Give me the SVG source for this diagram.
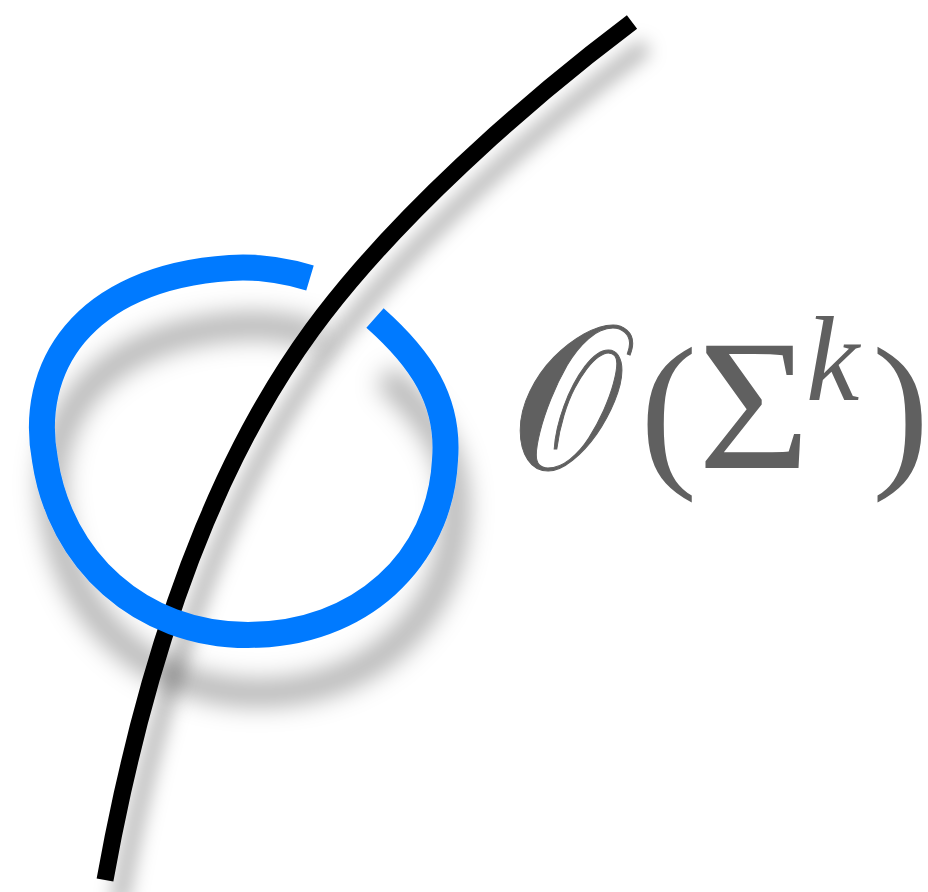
<svg xmlns="http://www.w3.org/2000/svg" width="928" height="892" viewBox="0 0 928 892">
  <defs>
    <filter id="shadowLine" x="-40%" y="-40%" width="180%" height="180%">
      <feDropShadow dx="14" dy="24" stdDeviation="9" flood-color="#000" flood-opacity="0.28"/>
    </filter>
    <filter id="shadowLoop" x="-40%" y="-40%" width="180%" height="180%">
      <feDropShadow dx="10" dy="58" stdDeviation="12" flood-color="#000" flood-opacity="0.3"/>
    </filter>
  </defs>
  <style>
    .line { fill: none; stroke: #000; stroke-width: 17; stroke-linecap: butt; }
    .loop { fill: none; stroke: #007AFF; stroke-width: 26; stroke-linecap: butt; }
    .lbl { fill: #606060; font-family: "Liberation Serif", "DejaVu Serif", serif; }
  </style>
  <rect width="928" height="892" fill="#fff"/>
  <g id="curve" filter="url(#shadowLine)">
    <path class="line" d="M632,22 C525.6,102 392.3,220 312,330 C202.5,480 141,680 105,880"/>
  </g>
  <g id="loop" filter="url(#shadowLoop)">
    <path class="loop" d="M375,318 C420,358 450,400 445,460 C440,560 360,635 248,635 C140,635 60,560 45,460 C28,370 80,278 230,268 C260,266 290,272 310,278"/>
  </g>
  <g id="label" class="lbl">
    <text class="lbl" transform="translate(511,469) scale(1.18,1.36)" font-family="DejaVu Serif, serif" font-size="150" stroke="#606060" stroke-width="0.8">𝒪</text>
    <text class="lbl" x="640" y="466" font-size="172">(</text>
    <text class="lbl" x="698" y="468" font-size="186" textLength="112" lengthAdjust="spacingAndGlyphs">Σ</text>
    <text class="lbl" x="806" y="400" font-size="120" font-style="italic">k</text>
    <text class="lbl" x="872" y="466" font-size="172">)</text>
  </g>
</svg>
